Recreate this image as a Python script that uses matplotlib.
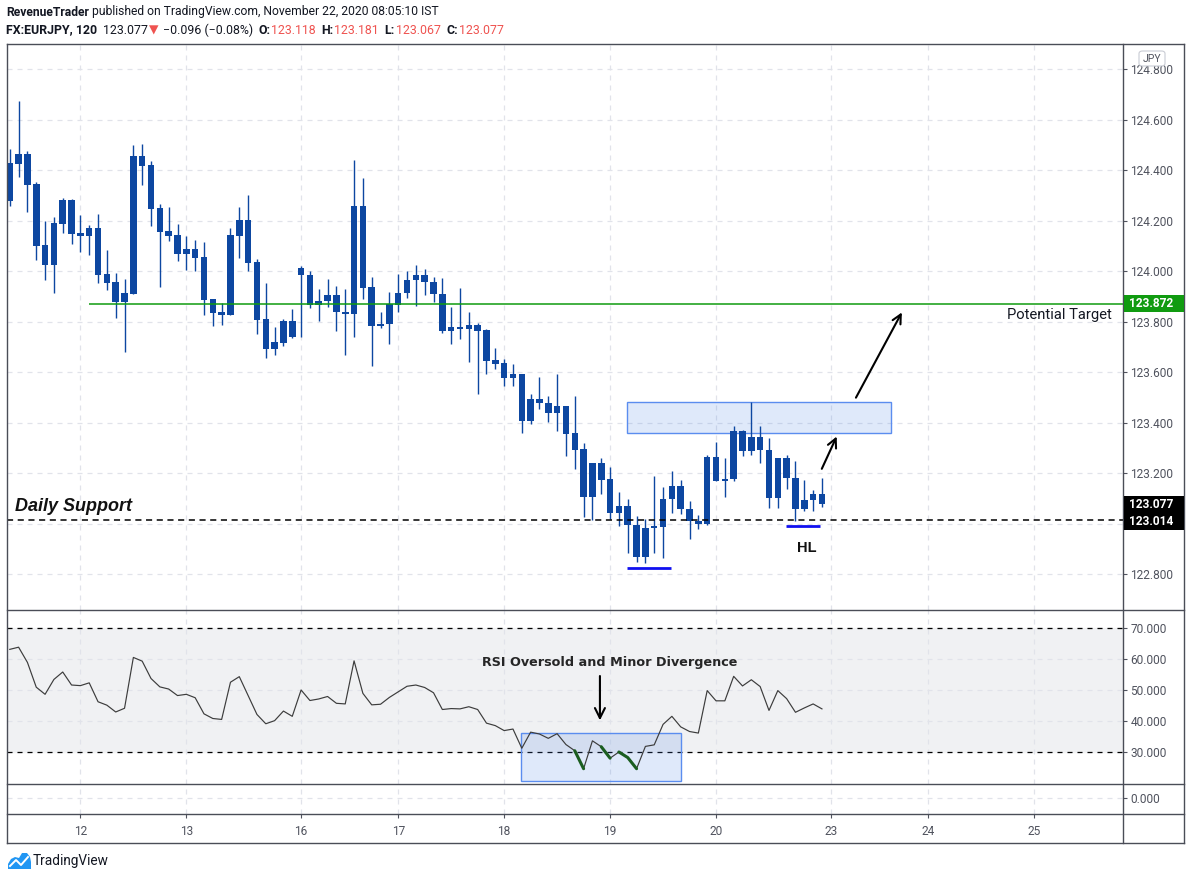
import matplotlib
matplotlib.use("Agg")
import matplotlib.pyplot as plt
import numpy as np
from matplotlib.patches import Rectangle, Polygon, FancyBboxPatch
from matplotlib.lines import Line2D
from matplotlib.transforms import blended_transform_factory

plt.rcParams['font.family'] = ['Roboto', 'DejaVu Sans']

W, H = 1188, 880

# FX:EURJPY 2h candles, Nov 11 - Nov 20 2020
opens = [124.280, 124.426, 124.465, 124.346, 124.104, 124.026, 124.189, 124.282, 124.152, 124.141,
         124.171, 123.989, 123.958, 123.880, 123.911, 124.457, 124.421, 124.251, 124.160, 124.144,
         124.070, 124.088, 124.057, 123.890, 123.839, 123.828, 124.141, 124.203, 124.037, 123.811,
         123.693, 123.717, 123.803, 124.014, 123.987, 123.866, 123.882, 123.908, 123.838, 123.830,
         124.259, 123.936, 123.783, 123.791, 123.866, 123.913, 123.964, 123.987, 123.959, 123.912,
         123.763, 123.778, 123.771, 123.786, 123.766, 123.647, 123.636, 123.578, 123.592, 123.408,
         123.493, 123.479, 123.439, 123.466, 123.358, 123.295, 123.105, 123.241, 123.178, 123.042,
         123.072, 122.995, 122.869, 122.982, 122.987, 123.099, 123.150, 123.058, 123.010, 122.999,
         123.264, 123.171, 123.179, 123.366, 123.289, 123.342, 123.293, 123.101, 123.260, 123.183,
         123.058, 123.095, 123.118]
highs = [124.484, 124.674, 124.476, 124.354, 124.199, 124.215, 124.290, 124.288, 124.223, 124.183,
         124.227, 124.084, 123.993, 123.970, 124.500, 124.504, 124.437, 124.267, 124.255, 124.187,
         124.140, 124.124, 124.116, 123.890, 123.874, 124.171, 124.255, 124.302, 124.049, 123.954,
         123.779, 123.811, 123.851, 124.022, 124.003, 123.928, 123.971, 123.943, 123.928, 124.441,
         124.370, 123.979, 123.838, 123.917, 123.991, 124.003, 124.026, 124.011, 123.979, 123.975,
         123.858, 123.932, 123.837, 123.797, 123.770, 123.695, 123.651, 123.632, 123.592, 123.513,
         123.580, 123.505, 123.592, 123.466, 123.507, 123.319, 123.241, 123.260, 123.225, 123.127,
         123.099, 123.033, 123.021, 123.190, 123.146, 123.209, 123.174, 123.092, 123.037, 123.272,
         123.323, 123.260, 123.386, 123.370, 123.481, 123.386, 123.339, 123.260, 123.272, 123.248,
         123.174, 123.135, 123.181]
lows = [124.260, 124.375, 124.236, 124.046, 123.967, 123.915, 124.153, 124.109, 124.078, 124.066,
        123.955, 123.927, 123.816, 123.682, 123.911, 124.343, 124.181, 123.939, 124.121, 124.042,
        124.005, 124.003, 123.828, 123.785, 123.789, 123.828, 124.054, 124.003, 123.753, 123.658,
        123.670, 123.705, 123.737, 123.739, 123.854, 123.803, 123.858, 123.763, 123.668, 123.739,
        123.889, 123.625, 123.775, 123.712, 123.838, 123.893, 123.862, 123.905, 123.878, 123.755,
        123.712, 123.732, 123.641, 123.514, 123.593, 123.613, 123.546, 123.546, 123.361, 123.396,
        123.455, 123.403, 123.368, 123.269, 123.218, 123.026, 123.016, 123.120, 123.018, 122.991,
        122.885, 122.850, 122.846, 122.885, 122.865, 123.042, 123.038, 122.940, 122.979, 122.995,
        123.171, 123.105, 123.171, 123.269, 123.273, 123.242, 123.061, 123.061, 123.140, 123.010,
        123.050, 123.050, 123.067]
closes = [124.429, 124.465, 124.343, 124.102, 124.026, 124.191, 124.282, 124.149, 124.141, 124.171,
          123.987, 123.955, 123.880, 123.913, 124.457, 124.418, 124.248, 124.157, 124.141, 124.070,
          124.088, 124.054, 123.888, 123.836, 123.828, 124.144, 124.203, 124.034, 123.808, 123.693,
          123.720, 123.803, 123.741, 123.984, 123.866, 123.884, 123.908, 123.838, 123.830, 124.259,
          123.933, 123.783, 123.793, 123.870, 123.916, 123.967, 123.987, 123.957, 123.909, 123.763,
          123.778, 123.771, 123.786, 123.763, 123.645, 123.633, 123.578, 123.592, 123.408, 123.493,
          123.479, 123.439, 123.466, 123.356, 123.293, 123.105, 123.241, 123.175, 123.042, 123.072,
          122.995, 122.869, 122.982, 122.990, 123.099, 123.150, 123.058, 123.010, 122.999, 123.264,
          123.171, 123.179, 123.366, 123.289, 123.342, 123.293, 123.101, 123.260, 123.183, 123.058,
          123.095, 123.119, 123.077]

rsi = [63.2, 63.9, 59.0, 51.0, 48.7, 53.5, 55.9, 51.7, 51.5, 52.4,
       46.3, 45.2, 43.0, 44.2, 60.6, 59.4, 53.8, 51.1, 50.4, 48.3,
       48.7, 47.6, 42.4, 40.9, 40.6, 52.6, 54.4, 48.3, 42.2, 39.2,
       40.2, 43.3, 41.6, 50.1, 46.7, 47.2, 48.0, 45.8, 45.6, 59.5,
       49.0, 45.3, 45.5, 47.7, 49.5, 51.3, 51.7, 50.9, 49.2, 43.8,
       44.1, 44.0, 44.7, 43.8, 39.4, 38.6, 37.0, 37.5, 31.3, 36.5,
       35.9, 34.5, 36.0, 32.5, 30.5, 24.7, 33.7, 31.8, 28.1, 30.1,
       28.3, 24.7, 31.9, 32.4, 39.0, 41.6, 38.2, 36.7, 36.2, 49.9,
       46.6, 46.6, 54.5, 51.4, 53.4, 51.2, 43.5, 49.9, 47.3, 42.9,
       44.3, 45.6, 44.0]
divergence_runs = [(64, 65), (67, 68), (69, 71)]

day_labels = ["12", "13", "16", "17", "18", "19", "20", "23", "24", "25"]
day_bars = [8, 20, 33, 44, 56, 68, 80, 93, 104, 116]
price_ticks = [122.8, 123.0, 123.2, 123.4, 123.6, 123.8, 124.0, 124.2, 124.4, 124.6, 124.8]
hidden_ticks = [123.0]          # covered by the price tags in the original
rsi_ticks = [30, 40, 50, 60, 70]

target = 123.872
support = 123.014
last_close = closes[-1]
zone = (123.360, 123.482)      # resistance box, price
zone_bars = (69.9, 99.8)
low_marks = [(69.9, 74.9, 122.825), (87.9, 91.8, 122.990)]
rsi_box = (57.9, 76.0, 20.6, 36.1)

CANDLE = "#0d47a1"
GRID = "#e1e3ea"
AXTXT = "#50535e"
FRAME = "#4a4d57"
GREEN = "#109b10"
XLIM = (-0.37, 126.1)

fig = plt.figure(figsize=(W / 100, H / 100), dpi=100)


def px_axes(x0, y0, x1, y1):
    return fig.add_axes([x0 / W, 1 - y1 / H, (x1 - x0) / W, (y1 - y0) / H])


def fpt(x, y):
    return (x / W, 1 - y / H)


ax = px_axes(6.5, 45, 1123, 609.5)
ax_rsi = px_axes(6.5, 609.5, 1123, 784)
ax_sm = px_axes(6.5, 784, 1123, 814)

for a in (ax, ax_rsi, ax_sm):
    for sp in a.spines.values():
        sp.set_visible(False)
    a.set_xlim(*XLIM)
    a.set_xticks(day_bars)
    a.yaxis.tick_right()
    a.tick_params(axis='y', length=3, width=0.8, color=AXTXT, labelcolor=AXTXT,
                  labelsize=8.6, pad=2.4)
    a.tick_params(axis='x', length=0, labelbottom=False)
    a.grid(True, color=GRID, ls=(0, (4, 4)), lw=0.9)
    a.set_axisbelow(True)

# ---- price pane
ax.set_ylim(122.661, 124.896)
ax.set_yticks(price_ticks)
ax.set_yticklabels(["" if v in hidden_ticks else f"{v:.3f}" for v in price_ticks])

x = np.arange(len(opens))
o = np.array(opens); c = np.array(closes)
ax.vlines(x, lows, highs, color=CANDLE, lw=1.0, zorder=3)
body_lo = np.minimum(o, c)
body_h = np.maximum(np.abs(c - o), 0.005)
ax.bar(x, body_h, bottom=body_lo, width=0.74, color=CANDLE, zorder=4)

ax.hlines(target, 9, XLIM[1], color=GREEN, lw=1.1, zorder=5)
ax.axhline(support, color="black", lw=1.1, ls=(0, (4, 3)), zorder=5)

ax.add_patch(Rectangle((zone_bars[0], zone[0]), zone_bars[1] - zone_bars[0], zone[1] - zone[0],
                       facecolor=(0.27, 0.5, 0.9, 0.17), edgecolor="#5b8def", lw=1.0, zorder=2))
for x0, x1, y in low_marks:
    ax.hlines(y, x0, x1, color="#1010f0", lw=2.0, zorder=5)

ax.annotate("", xy=(93.8, 123.356), xytext=(91.85, 123.208),
            arrowprops=dict(arrowstyle="->", lw=1.5, color="black", mutation_scale=16), zorder=6)
ax.annotate("", xy=(101.2, 123.847), xytext=(95.7, 123.490),
            arrowprops=dict(arrowstyle="->", lw=1.5, color="black", mutation_scale=16), zorder=6)

ax.text(124.8, 123.827, "Potential Target", ha="right", va="center", fontsize=10.6, color="#131722")
ax.text(0.6, 123.068, "Daily Support", ha="left", va="center", fontsize=13,
        fontweight="bold", fontstyle="italic", family=["Liberation Sans", "DejaVu Sans"], color="#111111")
ax.text(90.3, 122.904, "HL", ha="center", va="center", fontsize=10.5, fontweight="bold",
        family=["Liberation Sans", "DejaVu Sans"], color="#111111")

# ---- RSI pane
ax_rsi.set_ylim(19.77, 76.06)
ax_rsi.set_yticks(rsi_ticks)
ax_rsi.set_yticklabels([f"{v:.3f}" for v in rsi_ticks])
ax_rsi.axhspan(30, 70, color="#f0f1f3", zorder=0)
ax_rsi.axhline(70, color="black", lw=0.9, ls=(0, (4, 4)), zorder=2)
ax_rsi.axhline(30, color="black", lw=0.9, ls=(0, (4, 4)), zorder=2)
ax_rsi.plot(x, rsi, color="#3c3c3c", lw=0.85, zorder=4)
for a0, a1 in divergence_runs:
    ax_rsi.plot(x[a0:a1 + 1], rsi[a0:a1 + 1], color="#1b5e20", lw=2.2, zorder=5,
                solid_capstyle="round")
bx0, bx1, by0, by1 = rsi_box
ax_rsi.add_patch(Rectangle((bx0, by0), bx1 - bx0, by1 - by0, facecolor=(0.27, 0.5, 0.9, 0.17),
                           edgecolor="#5b8def", lw=1.0, zorder=3))
ax_rsi.text(67.95, 59.0, "RSI Oversold and Minor Divergence", ha="center", va="center",
            fontsize=9.2, fontweight="bold", color="#262626", family=["DejaVu Sans"])
ax_rsi.annotate("", xy=(66.85, 39.4), xytext=(66.85, 55.5),
                arrowprops=dict(arrowstyle="->", lw=1.5, color="black", mutation_scale=18), zorder=6)

# ---- small pane + time axis
ax_sm.set_ylim(-1.2, 1.0)
ax_sm.set_yticks([0])
ax_sm.set_yticklabels(["0.000"])
ax_sm.set_xticklabels(day_labels)
ax_sm.tick_params(axis='x', length=3, width=0.8, color=AXTXT, labelcolor=AXTXT,
                  labelsize=8.6, pad=5, labelbottom=True)

# ---- frame
for (xa, ya), (xb, yb) in [((6.5, 44.5), (1184, 44.5)), ((6.5, 44.5), (6.5, 843)),
                           ((1123, 44.5), (1123, 843)), ((1184, 44.5), (1184, 843)),
                           ((6.5, 609.5), (1184, 609.5)), ((6.5, 784), (1184, 784)),
                           ((6.5, 814), (1184, 814)), ((6.5, 843), (1184, 843))]:
    p0, p1 = fpt(xa, ya), fpt(xb, yb)
    fig.add_artist(Line2D([p0[0], p1[0]], [p0[1], p1[1]], color=FRAME, lw=1.0))

# price tags on the axis
tr = blended_transform_factory(fig.transFigure, ax.transData)
tag_h = 17 / 252.6
for centre, label, col in [(target, f"{target:.3f}", GREEN), (last_close, f"{last_close:.3f}", "black"),
                           (last_close - 0.069, f"{support:.3f}", "black")]:
    fig.add_artist(Rectangle((1123.5 / W, centre - tag_h / 2), 60 / W, tag_h, transform=tr,
                             facecolor=col, edgecolor="none", zorder=5))
    fig.text(1129 / W, centre, label, transform=tr, ha="left", va="center", color="white",
             fontsize=8.6, fontweight="bold", zorder=6)

# currency badge
fig.add_artist(FancyBboxPatch(fpt(1139, 66), 26 / W, 15 / H, boxstyle="round,pad=0,rounding_size=0.003",
                              transform=fig.transFigure, facecolor="white", edgecolor="#c9ccd4", lw=0.8, zorder=5))
fig.text(*fpt(1152, 58.5), "JPY", ha="center", va="center", fontsize=7.5, color=AXTXT, zorder=6)

# ---- header
renderer = fig.canvas.get_renderer()


def write_line(x_px, y_px, parts, size):
    xp = x_px
    for s, col, bold, gap in parts:
        t = fig.text(xp / W, 1 - y_px / H, s, color=col, fontsize=size,
                     fontweight="bold" if bold else "normal", ha="left", va="center")
        xp = t.get_window_extent(renderer).x1 + gap


RED = "#ef5350"
DARK = "#131722"
write_line(6, 12, [("RevenueTrader", DARK, True, 3.5),
                   ("published on TradingView.com, November 22, 2020 08:05:10 IST", DARK, False, 0)], 8.7)
write_line(6, 30, [("FX:EURJPY, 120", DARK, True, 5.5),
                   ("123.077", DARK, False, 1.5),
                   ("\u25bc", RED, False, 4),
                   ("\u22120.096 (\u22120.08%)", DARK, False, 5.5),
                   ("O:", DARK, True, 1), ("123.118", RED, False, 5.5),
                   ("H:", DARK, True, 1), ("123.181", RED, False, 5.5),
                   ("L:", DARK, True, 1), ("123.067", RED, False, 5.5),
                   ("C:", DARK, True, 1), ("123.077", RED, False, 0)], 8.9)

# ---- footer logo
fig.add_artist(Polygon([fpt(*p) for p in [(8, 869), (8, 864), (11, 859), (15, 857), (19, 858),
                                           (22, 853), (27, 853), (30, 857), (31, 862), (31, 869)]],
                       closed=True, transform=fig.transFigure, facecolor="#2196f3", edgecolor="none"))
zz = [fpt(*p) for p in [(10, 866), (16, 860), (21, 865), (28, 857)]]
fig.add_artist(Line2D([p[0] for p in zz], [p[1] for p in zz], color="white", lw=1.4))
fig.text(*fpt(33, 861), "TradingView", ha="left", va="center", fontsize=9.8, color=DARK)

fig.savefig("out.png", dpi=100)
